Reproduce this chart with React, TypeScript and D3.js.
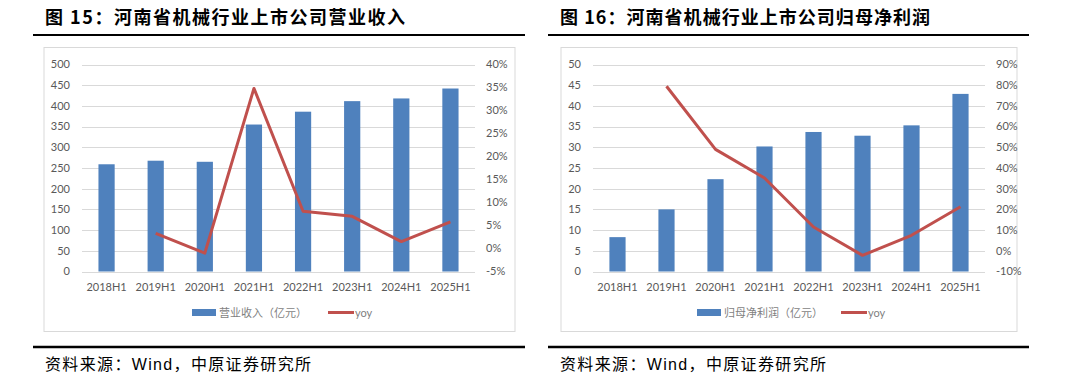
import React from "react";
import * as d3 from "d3";

const categories = ["2018H1", "2019H1", "2020H1", "2021H1", "2022H1", "2023H1", "2024H1", "2025H1"];

const revenue = [259, 267.6, 265, 355, 386, 411.5, 418, 442];
const revenueYoy: (number | null)[] = [null, 3.3, -1.0, 34.8, 8.1, 7.0, 1.5, 5.8];
const revLeftTicks = [0, 50, 100, 150, 200, 250, 300, 350, 400, 450, 500];
const revRightTicks = [-5, 0, 5, 10, 15, 20, 25, 30, 35, 40];

const profit = [8.3, 15.0, 22.3, 30.2, 33.7, 32.8, 35.3, 42.9];
const profitYoy: (number | null)[] = [null, 79.5, 49.0, 35.2, 11.5, -2.2, 7.5, 21.3];
const profLeftTicks = [0, 5, 10, 15, 20, 25, 30, 35, 40, 45, 50];
const profRightTicks = [-10, 0, 10, 20, 30, 40, 50, 60, 70, 80, 90];

const BLUE = "#4F81BD";
const RED = "#C0504D";
const GRID = "#D9D9D9";
const LABEL = "#595959";
const AXFONT = "Lato, 'Open Sans', 'Liberation Sans', sans-serif";
const CJK = "'Noto Sans CJK SC', sans-serif";

type PanelProps = {
  title: string;
  titleWidth: number;
  barName: string;
  bars: number[];
  yoy: (number | null)[];
  leftTicks: number[];
  rightTicks: number[];
  plotLeft: number;
  plotRight: number;
  boxLeft: number;
  boxRight: number;
  ruleLeft: number;
  ruleRight: number;
  legendX: number;
  lineLegendX: number;
};

function Panel(p: PanelProps) {
  const top = 64.5;
  const bottom = 271.5;
  const x = d3.scaleBand<string>().domain(categories).range([p.plotLeft, p.plotRight]).paddingInner(0.67).paddingOuter(0.335);
  const yL = d3.scaleLinear().domain([p.leftTicks[0], p.leftTicks[p.leftTicks.length - 1]]).range([bottom, top]);
  const yR = d3.scaleLinear().domain([p.rightTicks[0], p.rightTicks[p.rightTicks.length - 1]]).range([bottom, top]);
  const line = d3
    .line<[string, number | null]>()
    .defined((d) => d[1] !== null)
    .x((d) => (x(d[0]) as number) + x.bandwidth() / 2)
    .y((d) => yR(d[1] as number));
  const pts: [string, number | null][] = categories.map((c, i) => [c, p.yoy[i]]);

  return (
    <g>
      <text
        x={p.ruleLeft + 12}
        y={24}
        fontFamily={CJK}
        fontWeight={700}
        fontSize={18}
        fill="#000"
        textLength={p.titleWidth}
        lengthAdjust="spacing"
      >
        {p.title}
      </text>
      <line x1={p.ruleLeft} x2={p.ruleRight} y1={35} y2={35} stroke="#000" strokeWidth={2} />
      <rect x={p.boxLeft} y={47.5} width={p.boxRight - p.boxLeft} height={284} fill="#fff" stroke={GRID} strokeWidth={1} />
      {p.leftTicks.map((t) => (
        <g key={"l" + t}>
          <line x1={p.plotLeft} x2={p.plotRight} y1={Math.round(yL(t)) + 0.5} y2={Math.round(yL(t)) + 0.5} stroke={GRID} strokeWidth={1} />
          <text x={p.plotLeft - 12} y={yL(t)} dy="0.35em" textAnchor="end" fontFamily={AXFONT} fontSize={11} fill={LABEL}>
            {t}
          </text>
        </g>
      ))}
      {p.rightTicks.map((t) => (
        <text key={"r" + t} x={p.plotRight + 11} y={yR(t)} dy="0.35em" textAnchor="start" fontFamily={AXFONT} fontSize={11} fill={LABEL}>
          {t + "%"}
        </text>
      ))}
      {categories.map((c, i) => (
        <rect key={c} x={x(c)} y={yL(p.bars[i])} width={x.bandwidth()} height={bottom - yL(p.bars[i])} fill={BLUE} />
      ))}
      <path d={line(pts) || ""} fill="none" stroke={RED} strokeWidth={3} strokeLinejoin="round" />
      {categories.map((c) => (
        <text key={"x" + c} x={(x(c) as number) + x.bandwidth() / 2} y={287} dy="0.35em" textAnchor="middle" fontFamily={AXFONT} fontSize={11} fill={LABEL}>
          {c}
        </text>
      ))}
      <rect x={p.legendX} y={309} width={24} height={7} fill={BLUE} />
      <text x={p.legendX + 27} y={313} dy="0.35em" fontFamily={CJK} fontSize={11} fill="#7F7F7F">
        {p.barName}
      </text>
      <line x1={p.lineLegendX} x2={p.lineLegendX + 26} y1={312.5} y2={312.5} stroke={RED} strokeWidth={3} />
      <text x={p.lineLegendX + 27} y={313} dy="0.35em" fontFamily={AXFONT} fontSize={11} fill="#7F7F7F">
        yoy
      </text>
      <line x1={p.ruleLeft} x2={p.ruleRight} y1={347} y2={347} stroke="#000" strokeWidth={2.5} />
      <text x={p.ruleLeft + 12} y={370} fontFamily={CJK} fontSize={16} fill="#000" textLength={266} lengthAdjust="spacing">
        资料来源：<tspan fontFamily="'Liberation Sans', Arial, sans-serif">Wind</tspan>，中原证券研究所
      </text>
    </g>
  );
}

export default function App() {
  return (
    <svg width={1080} height={381} style={{ position: "absolute", left: 0, top: 0, background: "#fff" }}>
      <rect x={0} y={0} width={1080} height={381} fill="#fff" />
      <Panel
        title="图 15：河南省机械行业上市公司营业收入"
        titleWidth={360}
        barName="营业收入（亿元）"
        bars={revenue}
        yoy={revenueYoy}
        leftTicks={revLeftTicks}
        rightTicks={revRightTicks}
        plotLeft={82}
        plotRight={475}
        boxLeft={44}
        boxRight={515}
        ruleLeft={33}
        ruleRight={525}
        legendX={192}
        lineLegendX={328}
      />
      <Panel
        title="图 16：河南省机械行业上市公司归母净利润"
        titleWidth={370}
        barName="归母净利润（亿元）"
        bars={profit}
        yoy={profitYoy}
        leftTicks={profLeftTicks}
        rightTicks={profRightTicks}
        plotLeft={593}
        plotRight={985}
        boxLeft={561}
        boxRight={1017}
        ruleLeft={548}
        ruleRight={1029}
        legendX={697}
        lineLegendX={841}
      />
    </svg>
  );
}
